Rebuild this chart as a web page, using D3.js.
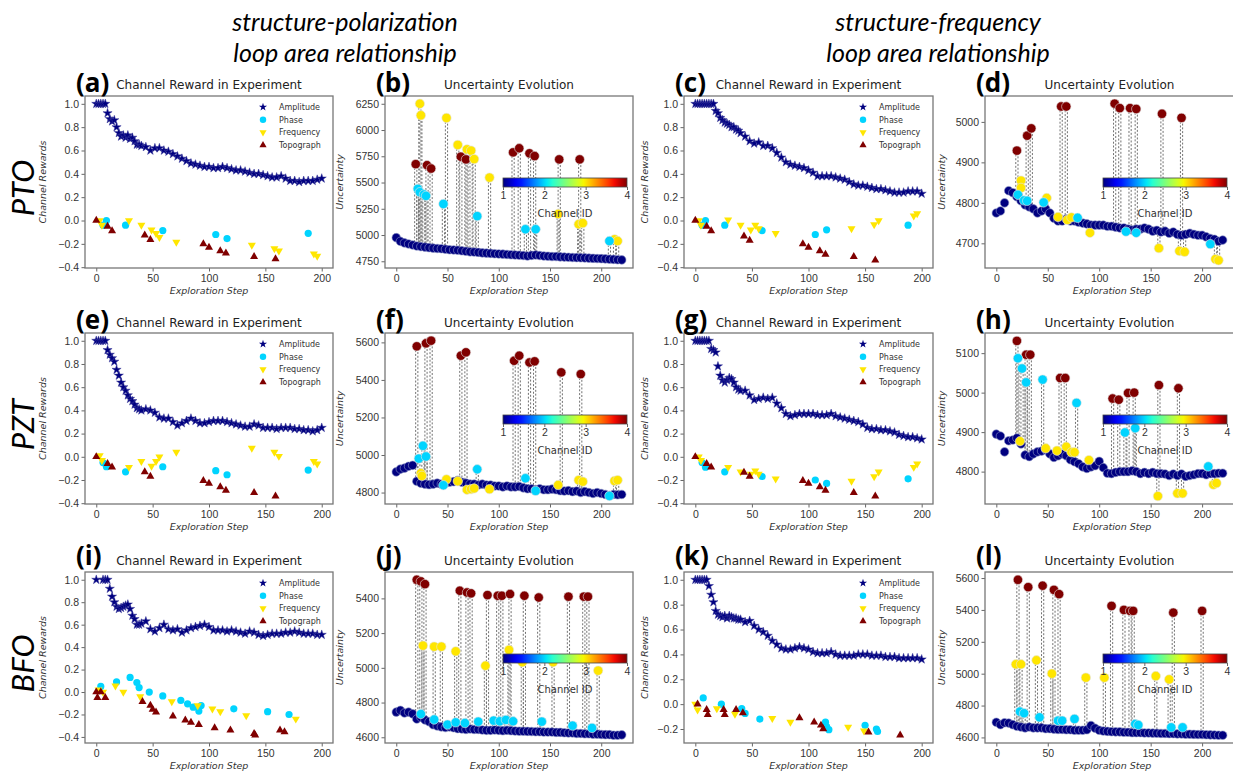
<!DOCTYPE html>
<meta charset="utf-8">
<style>
body { margin: 0; background: #fff; }
svg { font-family: 'DejaVu Sans', sans-serif; }
.tick text { fill: #333; font-size: 10.5px; }
.tick line { stroke: #666; }
.domain { display: none; }
.head { font-family: 'Lato', sans-serif; font-style: italic; font-size: 25px; }
.rowlab { font-family: 'Lato', sans-serif; font-style: italic; font-size: 31px; }
.letter { font-family: 'Open Sans', sans-serif; font-weight: bold; font-size: 26px; }
.ptitle { font-size: 12px; fill: #222; }
.axlab { font-size: 9.5px; font-style: italic; fill: #333; }
.legend { font-size: 8px; fill: #333; }
</style>
<body>
<div id="fig"></div>
<script src="https://cdn.jsdelivr.net/npm/d3@7"></script>
<script>
// ---------- data: channel reward panels ----------
var ampSteps = [0,2,4,6,8,10,12,14,16,18,20,22,24,26,28,30,32,34,36,38,40,
  44,48,52,56,60,64,68,72,76,80,84,88,92,96,100,104,108,112,116,120,
  124,128,132,136,140,144,148,152,156,160,164,168,172,176,180,184,188,192,196,200];

var ampA = [1,1,1,1,1,0.92,0.87,0.85,0.86,0.80,0.75,0.72,0.73,0.71,0.73,0.70,0.71,0.68,0.65,0.65,0.64,
  0.63,0.60,0.62,0.62,0.60,0.59,0.57,0.55,0.53,0.51,0.49,0.48,0.47,0.46,0.46,0.45,0.45,0.46,0.45,0.44,
  0.43,0.43,0.42,0.41,0.40,0.40,0.39,0.38,0.37,0.37,0.38,0.36,0.34,0.34,0.33,0.34,0.34,0.34,0.35,0.36];
var ampC = [1,1,1,1,1,1,1,1,1,0.94,0.92,0.88,0.86,0.84,0.83,0.82,0.80,0.80,0.78,0.77,0.75,
  0.72,0.68,0.66,0.67,0.64,0.64,0.62,0.58,0.54,0.50,0.48,0.47,0.46,0.45,0.43,0.41,0.38,0.38,0.38,0.38,
  0.37,0.36,0.35,0.33,0.31,0.30,0.30,0.29,0.28,0.27,0.27,0.26,0.25,0.24,0.24,0.24,0.25,0.25,0.25,0.23];
var ampE = [1,1,1,1,1,0.92,0.88,0.85,0.82,0.75,0.70,0.64,0.60,0.57,0.53,0.50,0.48,0.45,0.42,0.41,0.40,
  0.41,0.40,0.38,0.34,0.33,0.33,0.30,0.27,0.29,0.31,0.33,0.31,0.29,0.29,0.30,0.31,0.31,0.31,0.30,0.29,
  0.28,0.27,0.26,0.26,0.28,0.27,0.25,0.25,0.25,0.24,0.25,0.25,0.25,0.24,0.24,0.23,0.23,0.22,0.23,0.25];
var ampG = [1,1,1,1,1,1,1,0.93,0.92,0.90,0.78,0.70,0.66,0.64,0.66,0.68,0.67,0.64,0.60,0.58,0.57,
  0.57,0.53,0.49,0.50,0.51,0.50,0.51,0.46,0.42,0.37,0.35,0.36,0.37,0.37,0.37,0.37,0.36,0.36,0.36,0.37,
  0.35,0.34,0.33,0.32,0.31,0.30,0.28,0.25,0.24,0.24,0.23,0.23,0.22,0.21,0.19,0.18,0.17,0.17,0.16,0.15];
var ampI = [1,null,null,1,1,1,0.92,0.85,0.80,0.76,0.74,0.75,0.76,0.77,0.78,0.74,0.68,0.65,0.60,0.60,0.61,
  0.63,0.56,0.54,0.57,0.60,0.56,0.55,0.56,0.53,0.55,0.57,0.58,0.59,0.60,0.58,0.55,0.55,0.55,0.54,0.55,
  0.54,0.53,0.52,0.54,0.53,0.51,0.50,0.51,0.52,0.52,0.52,0.53,0.53,0.54,0.53,0.52,0.52,0.52,0.51,0.51];
var ampK = [1,1,1,1,1,1,0.95,0.88,0.82,0.75,0.72,0.71,0.70,0.71,0.69,0.71,0.70,0.69,0.69,0.68,0.68,
  0.66,0.67,0.63,0.60,0.58,0.55,0.51,0.48,0.45,0.44,0.44,0.45,0.46,0.45,0.44,0.42,0.41,0.41,0.41,0.42,
  0.40,0.39,0.39,0.39,0.39,0.40,0.40,0.40,0.39,0.39,0.39,0.38,0.38,0.38,0.37,0.37,0.37,0.37,0.37,0.36];

var phaseA = [[6,-0.04],[9,0.0],[26,-0.04],[59,-0.086],[106,-0.12],[116,-0.155],[188,-0.11]];
var freqA = [[3,0.0],[5,-0.04],[29,0.0],[40,-0.04],[49,-0.08],[53,-0.11],[56,-0.145],[71,-0.185],[138,-0.21],[158,-0.24],[162,-0.26],[193,-0.285],[196,-0.305]];
var topoA = [[0,0.0],[10,-0.05],[14,-0.09],[43,-0.125],[48,-0.165],[95,-0.2],[100,-0.23],[110,-0.26],[115,-0.28],[140,-0.31],[159,-0.33]];

var phaseC = [[6,-0.04],[9,0.0],[26,-0.04],[59,-0.086],[106,-0.12],[116,-0.08],[188,-0.04]];
var freqC = [[3,0.0],[5,-0.04],[29,0.005],[40,-0.04],[49,-0.08],[53,-0.04],[56,-0.07],[71,-0.11],[138,-0.07],[158,-0.035],[162,0.0],[193,0.04],[196,0.06]];
var topoC = [[0,0.0],[10,-0.05],[14,-0.09],[43,-0.135],[48,-0.17],[95,-0.2],[100,-0.23],[110,-0.26],[115,-0.29],[140,-0.31],[159,-0.34]];

var phaseE = [[6,-0.05],[9,-0.086],[26,-0.13],[59,-0.086],[106,-0.12],[116,-0.155],[188,-0.115]];
var freqE = [[3,0.01],[5,-0.03],[29,-0.09],[40,-0.04],[49,-0.08],[53,-0.04],[56,0.0],[71,0.04],[138,0.075],[158,0.04],[162,0.005],[193,-0.04],[196,-0.06]];
var topoE = [[0,0.0],[10,-0.06],[14,-0.09],[43,-0.13],[48,-0.17],[95,-0.205],[100,-0.23],[110,-0.26],[115,-0.29],[140,-0.31],[159,-0.34]];

var phaseG = [[6,-0.05],[9,-0.09],[26,-0.13],[59,-0.17],[106,-0.2],[116,-0.23],[188,-0.19]];
var freqG = [[3,0.0],[5,-0.03],[29,-0.09],[40,-0.13],[49,-0.15],[53,-0.12],[56,-0.15],[71,-0.19],[138,-0.21],[158,-0.17],[162,-0.13],[193,-0.09],[196,-0.06]];
var topoG = [[0,0.0],[10,-0.06],[14,-0.09],[43,-0.135],[48,-0.17],[95,-0.205],[100,-0.23],[110,-0.26],[115,-0.29],[140,-0.31],[159,-0.34]];

var phaseI = [[4,0.05],[18,0.09],[30,0.13],[36,0.085],[38,0.04],[47,0.0],[59,-0.035],[75,-0.075],[81,-0.105],[86,-0.135],[91,-0.17],[93,-0.12],[122,-0.15],[152,-0.175],[171,-0.2]];
var freqI = [[2,0.02],[6,0.0],[17,0.055],[24,0.0],[39,-0.04],[67,-0.085],[90,-0.12],[103,-0.15],[110,-0.175],[133,-0.21],[177,-0.24]];
var topoI = [[0,0.0],[1,-0.05],[4,0.0],[8,-0.05],[41,-0.085],[48,-0.12],[50,-0.155],[53,-0.18],[68,-0.215],[79,-0.25],[84,-0.27],[91,-0.29],[105,-0.32],[119,-0.34],[140,-0.37],[141,-0.385],[163,-0.34],[167,-0.355]];

var phaseK = [[7,0.05],[23,0.0],[41,-0.035],[44,-0.075],[57,-0.12],[115,-0.145],[116,-0.18],[118,-0.205],[150,-0.17],[160,-0.2],[161,-0.22]];
var freqK = [[0,0.0],[2,-0.045],[19,-0.035],[35,-0.08],[68,-0.115],[84,-0.145],[135,-0.185],[149,-0.215]];
var topoK = [[2,0.0],[10,-0.045],[11,-0.085],[25,-0.045],[26,-0.085],[36,-0.045],[42,-0.07],[92,-0.11],[105,-0.145],[111,-0.17],[113,-0.2],[153,-0.225],[181,-0.25]];

// ---------- data: uncertainty panels ----------
var uncSteps = [0,4,8,12,16,20,24,28,32,36,40,44,48,52,56,60,64,68,72,76,80,84,88,92,96,100,
  104,108,112,116,120,124,128,132,136,140,144,148,152,156,160,164,168,172,176,180,184,188,192,196,200,
  204,208,212,216,220];

var baseB = [4975,4940,4925,4915,4905,4895,4890,4885,4880,4875,4872,4870,4865,4860,4858,4855,4850,4845,4840,4838,
  4835,4830,4828,4825,4822,4820,4818,4815,4812,4810,4808,4805,4800,4806,4810,4805,4800,4798,4795,4795,
  4792,4790,4788,4786,4785,4783,4782,4780,4778,4776,4775,4773,4770,4768,4765,4763];
var baseD = [4775,4780,4800,4830,4825,4815,4805,4795,4790,4785,4775,4780,4785,4775,4762,4755,4755,4760,4755,4755,
  4752,4750,4748,4745,4745,4745,4745,4742,4742,4740,4738,4738,4735,4733,4735,4735,4738,4735,4730,4732,
  4728,4730,4725,4728,4722,4720,4722,4725,4722,4720,4720,4716,4712,4710,4705,4708];
var baseF = [4910,4925,4930,4940,4945,4860,4850,4845,4842,4845,4850,4845,4850,4855,4858,4865,4855,4850,4845,4845,
  4840,4845,4840,4840,4835,4835,4830,4835,4830,4830,4832,4825,4820,4820,4815,4820,4815,4815,4818,4815,
  4810,4808,4810,4805,4808,4800,4805,4800,4795,4800,4795,4790,4785,4790,4788,4790];
var baseH = [4895,4890,4850,4878,4880,4885,4870,4842,4838,4845,4850,4852,4855,4845,4836,4840,4845,4840,4830,4825,
  4820,4812,4808,4812,4815,4826,4810,4796,4795,4798,4800,4800,4800,4802,4800,4795,4798,4795,4798,4795,
  4795,4794,4790,4794,4790,4794,4788,4790,4792,4795,4795,4792,4795,4795,4796,4796];
var baseJ = [4745,4755,4740,4745,4735,4705,4715,4700,4690,4672,4665,4660,4656,4660,4655,4650,4648,4645,4648,4645,
  4645,4642,4640,4640,4642,4640,4638,4640,4638,4636,4635,4635,4634,4633,4632,4632,4630,4630,4630,4628,
  4628,4626,4625,4625,4622,4622,4620,4620,4618,4618,4616,4615,4615,4612,4612,4614];
var baseL = [4695,4680,4692,4690,4680,4670,4665,4660,4665,4660,4660,4660,4655,4655,4652,4650,4650,4648,4648,4645,
  4645,4645,4648,4675,4658,4645,4640,4638,4636,4635,4635,4632,4632,4630,4630,4630,4628,4628,4627,4626,
  4625,4625,4624,4624,4622,4622,4620,4620,4619,4618,4618,4617,4616,4615,4614,4614];

// [step, uncertainty, channel ID]
var pointsB = [[19,5675,4],[30,5665,4],[34,5633,4],[63,5746,4],[68,5720,4],[114,5787,4],[120,5826,4],[130,5778,4],[135,5752,4],[159,5720,4],[179,5720,4],
  [23,6250,3],[24,6140,3],[49,6115,3],[60,5858,3],[69,5816,3],[73,5804,3],[76,5723,3],[91,5547,3],[158,5200,3],[178,5103,3],[182,5113,3],[213,4959,3],[216,4943,3],
  [21,5440,2],[23,5408,2],[27,5386,2],[29,5373,2],[46,5296,2],[79,5180,2],[126,5055,2],[136,5055,2],[208,4943,2]];
var pointsD = [[20,4929,4],[30,4966,4],[34,4984,4],[63,5038,4],[68,5038,4],[115,5045,4],[120,5034,4],[130,5034,4],[136,5032,4],[161,5020,4],[180,5010,4],
  [24,4855,3],[24,4837,3],[49,4812,3],[60,4765,3],[69,4758,3],[73,4764,3],[91,4726,3],[158,4688,3],[178,4681,3],[183,4679,3],[213,4661,3],[216,4658,3],
  [21,4820,2],[27,4806,2],[30,4805,2],[46,4801,2],[79,4763,2],[126,4729,2],[136,4726,2],[208,4698,2]];
var pointsF = [[20,5579,4],[29,5595,4],[34,5609,4],[63,5529,4],[68,5547,4],[115,5502,4],[120,5529,4],[130,5493,4],[135,5499,4],[161,5440,4],[180,5431,4],
  [24,4903,3],[25,4889,3],[49,4870,3],[60,4860,3],[69,4815,3],[73,4818,3],[76,4822,3],[91,4818,3],[158,4840,3],[178,4866,3],[182,4858,3],[213,4862,3],[216,4866,3],
  [22,4981,2],[26,5049,2],[29,4992,2],[46,4839,2],[79,4924,2],[126,4876,2],[136,4809,2],[208,4782,2]];
var pointsH = [[20,5131,4],[29,5096,4],[33,5096,4],[62,5037,4],[67,5037,4],[113,4985,4],[119,4982,4],[128,4999,4],[134,5000,4],[158,5019,4],[177,5011,4],
  [23,4877,3],[48,4859,3],[59,4853,3],[68,4863,3],[73,4849,3],[76,4849,3],[90,4829,3],[157,4738,3],[176,4745,3],[181,4745,3],[211,4767,3],[214,4771,3],
  [21,5087,2],[25,5061,2],[29,5026,2],[45,5033,2],[78,4974,2],[125,4899,2],[135,4910,2],[206,4813,2]];
var pointsJ = [[20,5507,4],[24,5498,4],[28,5482,4],[62,5444,4],[69,5434,4],[73,5429,4],[89,5419,4],[99,5415,4],[103,5415,4],[111,5425,4],[125,5415,4],[139,5405,4],[168,5410,4],[183,5410,4],[187,5410,4],
  [26,5128,3],[37,5122,3],[44,5122,3],[58,5095,3],[87,5012,3],[110,5103,3],[123,5032,3],[153,5032,3],[197,4984,3],
  [24,4734,2],[37,4702,2],[50,4673,2],[58,4686,2],[67,4682,2],[80,4690,2],[95,4696,2],[101,4692,2],[107,4700,2],[114,4692,2],[142,4690,2],[172,4667,2],[191,4654,2]];
var pointsL = [[21,5589,4],[31,5543,4],[45,5552,4],[56,5526,4],[61,5499,4],[112,5425,4],[124,5400,4],[130,5394,4],[133,5394,4],[172,5383,4],[200,5394,4],
  [19,5059,3],[24,5059,3],[39,5084,3],[54,5000,3],[87,4975,3],[105,4975,3],[155,4985,3],[168,4964,3],
  [23,4762,2],[27,4752,2],[42,4726,2],[60,4705,2],[64,4705,2],[76,4716,2],[135,4684,2],[138,4678,2],[170,4663,2],[181,4663,2]];

// ---------- labels / ticks ----------
var stepTicks = [0,50,100,150,200];
var rewardTicks = [-0.4,-0.2,0,0.2,0.4,0.6,0.8,1.0];
var rewardTicksK = [-0.2,0,0.2,0.4,0.6,0.8,1.0];
var uncTicksB = [4750,5000,5250,5500,5750,6000,6250];
var uncTicksD = [4700,4800,4900,5000];
var uncTicksF = [4800,5000,5200,5400,5600];
var uncTicksH = [4800,4900,5000,5100];
var uncTicksJ = [4600,4800,5000,5200,5400];
var uncTicksL = [4600,4800,5000,5200,5400,5600];
var channelNames = ['Amplitude','Phase','Frequency','Topograph'];
var channelIds = [1,2,3,4];
var materials = ['PTO','PZT','BFO'];
var headers = [['structure-polarization','loop area relationship'],['structure-frequency','loop area relationship']];

// ---------- jet colormap ----------
var jetR = [[0,0],[0.35,0],[0.66,1],[0.89,1],[1,0.5]],
    jetG = [[0,0],[0.125,0],[0.375,1],[0.64,1],[0.91,0],[1,0]],
    jetB = [[0,0.5],[0.11,1],[0.34,1],[0.65,0],[1,0]];
function seg(p, t) {
  for (var i = 1; i < p.length; i++) {
    if (t <= p[i][0]) return p[i-1][1] + (p[i][1]-p[i-1][1]) * (t-p[i-1][0]) / (p[i][0]-p[i-1][0]);
  }
  return p[p.length-1][1];
}
function jet(t) { return d3.rgb(255*seg(jetR,t), 255*seg(jetG,t), 255*seg(jetB,t)).formatHex(); }
var chColor = d3.scaleLinear().domain([1,4]).range([0,1]);
function colorOf(id) { return jet(chColor(id)); }

// ---------- layout ----------
var cols = [{l:85,r:333},{l:385,r:633},{l:684,r:933},{l:985,r:1234}];
var rows = [{t:96,b:268},{t:333,b:504},{t:572,b:743}];
var letterY = [92, 329, 565];
var titleY = [89, 327, 565];
var ylabX = [43, 340, 645, 942];

var svg = d3.select('#fig').append('svg')
  .attr('width', 1233).attr('height', 774);

var grad = svg.append('defs').append('linearGradient').attr('id','jetgrad');
grad.selectAll('stop').data(d3.range(0, 1.0001, 0.05)).join('stop')
  .attr('offset', function(d){ return d; })
  .attr('stop-color', function(d){ return jet(d); });

// headers
headers.forEach(function(h, i) {
  var cx = [345, 938][i];
  svg.append('text').attr('class','head').attr('x',cx).attr('y',31).attr('text-anchor','middle').text(h[0]);
  svg.append('text').attr('class','head').attr('x',cx).attr('y',62).attr('text-anchor','middle').text(h[1]);
});
// material row labels
materials.forEach(function(m, i) {
  var cy = (rows[i].t + rows[i].b) / 2 + 6;
  svg.append('text').attr('class','rowlab')
    .attr('transform','translate(34,' + cy + ') rotate(-90)')
    .attr('text-anchor','middle').text(m);
});

function makeAxes(p, xdom, ydom, yticks, fmt, title, ylab) {
  var c = cols[p.col], r = rows[p.row];
  var x = d3.scaleLinear().domain(xdom).range([c.l, c.r]);
  var y = d3.scaleLinear().domain(ydom).range([r.b, r.t]);
  var g = svg.append('g');
  var clipId = 'clip' + p.id.replace(/[()]/g,'');
  svg.select('defs').append('clipPath').attr('id', clipId)
    .append('rect').attr('x', c.l).attr('y', r.t).attr('width', c.r - c.l).attr('height', r.b - r.t);
  g.append('g').attr('transform','translate(0,' + r.b + ')')
    .call(d3.axisBottom(x).tickValues(stepTicks).tickSize(3.5).tickPadding(3));
  g.append('g').attr('transform','translate(' + c.l + ',0)')
    .call(d3.axisLeft(y).tickValues(yticks).tickFormat(fmt).tickSize(3.5).tickPadding(2.5));
  var plot = g.append('g').attr('clip-path','url(#' + clipId + ')');
  g.append('rect').attr('x', c.l).attr('y', r.t).attr('width', c.r - c.l).attr('height', r.b - r.t)
    .attr('fill','none').attr('stroke','#777').attr('stroke-width',1.3);
  svg.append('text').attr('class','letter').attr('x', c.l - 9).attr('y', letterY[p.row]).text(p.id);
  svg.append('text').attr('class','ptitle').attr('x', (c.l + c.r) / 2).attr('y', titleY[p.row])
    .attr('text-anchor','middle').text(title);
  svg.append('text').attr('class','axlab').attr('x', (c.l + Math.min(c.r, 1233)) / 2 + (p.col == 3 ? 3 : 0)).attr('y', r.b + 26)
    .attr('text-anchor','middle').text('Exploration Step');
  svg.append('text').attr('class','axlab')
    .attr('transform','translate(' + ylabX[p.col] + ',' + (r.t + r.b) / 2 + ') rotate(-90)')
    .attr('text-anchor','middle').attr('dy','0.35em').text(ylab);
  return {x: x, y: y, plot: plot, g: g, c: c, r: r};
}

// ---------- reward panels ----------
var star = d3.symbol(d3.symbolStar, 26);
var triUp = d3.symbol(d3.symbolTriangle, 28);
var rewardPanels = [
  {id:'(a)', col:0, row:0, amp:ampA, phase:phaseA, freq:freqA, topo:topoA, ydom:[-0.407,1.067], ticks:rewardTicks},
  {id:'(c)', col:2, row:0, amp:ampC, phase:phaseC, freq:freqC, topo:topoC, ydom:[-0.407,1.067], ticks:rewardTicks},
  {id:'(e)', col:0, row:1, amp:ampE, phase:phaseE, freq:freqE, topo:topoE, ydom:[-0.407,1.067], ticks:rewardTicks},
  {id:'(g)', col:2, row:1, amp:ampG, phase:phaseG, freq:freqG, topo:topoG, ydom:[-0.407,1.067], ticks:rewardTicks},
  {id:'(i)', col:0, row:2, amp:ampI, phase:phaseI, freq:freqI, topo:topoI, ydom:[-0.454,1.069], ticks:rewardTicks},
  {id:'(k)', col:2, row:2, amp:ampK, phase:phaseK, freq:freqK, topo:topoK, ydom:[-0.3125,1.0625], ticks:rewardTicksK}
];

function drawMarker(sel, id, s) {
  if (id == 1) sel.append('path').attr('d', d3.symbol(d3.symbolStar, s * 26)()).attr('fill', colorOf(1));
  else if (id == 2) sel.append('circle').attr('r', 3.6 * Math.sqrt(s)).attr('fill', colorOf(2));
  else if (id == 3) sel.append('path').attr('d', d3.symbol(d3.symbolTriangle, s * 28)()).attr('transform','rotate(180)').attr('fill', colorOf(3));
  else sel.append('path').attr('d', d3.symbol(d3.symbolTriangle, s * 28)()).attr('fill', colorOf(4));
}

rewardPanels.forEach(function(p) {
  var a = makeAxes(p, [-10, 210], p.ydom, p.ticks, d3.format('.1f'), 'Channel Reward in Experiment', 'Channel Rewards');
  var x = a.x, y = a.y;
  var ampPts = ampSteps.map(function(s, i){ return [s, p.amp[i]]; }).filter(function(d){ return d[1] != null; });
  a.plot.selectAll('path.amp').data(ampPts).join('path').attr('class','amp')
    .attr('d', star).attr('fill', colorOf(1)).attr('stroke', '#3a3a9a').attr('stroke-width', 0.5)
    .attr('transform', function(d){ return 'translate(' + x(d[0]) + ',' + y(d[1]) + ')'; });
  a.plot.selectAll('circle.ph').data(p.phase).join('circle').attr('class','ph')
    .attr('cx', function(d){ return x(d[0]); }).attr('cy', function(d){ return y(d[1]); })
    .attr('r', 3.6).attr('fill', colorOf(2));
  a.plot.selectAll('path.fq').data(p.freq).join('path').attr('class','fq')
    .attr('d', triUp).attr('fill', colorOf(3))
    .attr('transform', function(d){ return 'translate(' + x(d[0]) + ',' + y(d[1]) + ') rotate(180)'; });
  a.plot.selectAll('path.tp').data(p.topo).join('path').attr('class','tp')
    .attr('d', triUp).attr('fill', colorOf(4))
    .attr('transform', function(d){ return 'translate(' + x(d[0]) + ',' + y(d[1]) + ')'; });
  // legend
  var lg = svg.append('g').attr('transform','translate(' + (a.c.r - 70) + ',' + (a.r.t + 11) + ')');
  channelNames.forEach(function(n, i) {
    var row = lg.append('g').attr('transform','translate(0,' + (i * 12.7) + ')');
    drawMarker(row, channelIds[i], 0.8);
    row.append('text').attr('class','legend').attr('x', 16).attr('dy','0.35em').text(n);
  });
});

// ---------- uncertainty panels ----------
var uncPanels = [
  {id:'(b)', col:1, row:0, base:baseB, pts:pointsB, ydom:[4686,6324], ticks:uncTicksB},
  {id:'(d)', col:3, row:0, base:baseD, pts:pointsD, ydom:[4639,5064], ticks:uncTicksD},
  {id:'(f)', col:1, row:1, base:baseF, pts:pointsF, ydom:[4739,5650], ticks:uncTicksF},
  {id:'(h)', col:3, row:1, base:baseH, pts:pointsH, ydom:[4718,5151], ticks:uncTicksH},
  {id:'(j)', col:1, row:2, base:baseJ, pts:pointsJ, ydom:[4567,5552], ticks:uncTicksJ},
  {id:'(l)', col:3, row:2, base:baseL, pts:pointsL, ydom:[4565,5638], ticks:uncTicksL}
];

uncPanels.forEach(function(p) {
  var a = makeAxes(p, [-11, 231], p.ydom, p.ticks, d3.format('d'), 'Uncertainty Evolution', 'Uncertainty');
  var x = a.x, y = a.y;
  function baseAt(s) { return p.base[d3.minIndex(uncSteps, function(u){ return Math.abs(u - s); })]; }
  // dotted drop lines
  [-1.1, 1.1].forEach(function(o, k) {
    a.plot.selectAll('line.drop' + k).data(p.pts).join('line').attr('class','drop' + k)
      .attr('x1', function(d){ return x(d[0]) + o; }).attr('x2', function(d){ return x(d[0]) + o; })
      .attr('y1', function(d){ return y(d[1]); }).attr('y2', function(d){ return y(baseAt(d[0])); })
      .attr('stroke','#707070').attr('stroke-width',1)
      .attr('stroke-dasharray','2,1.8').attr('stroke-dashoffset', k * 1.9);
  });
  a.plot.selectAll('circle.base').data(uncSteps).join('circle').attr('class','base')
    .attr('cx', function(d){ return x(d); }).attr('cy', function(d, i){ return y(p.base[i]); })
    .attr('r', 4.3).attr('fill', colorOf(1)).attr('stroke','#9098c8').attr('stroke-width',0.6);
  a.plot.selectAll('circle.pt').data(p.pts).join('circle').attr('class','pt')
    .attr('cx', function(d){ return x(d[0]); }).attr('cy', function(d){ return y(d[1]); })
    .attr('r', 4.7).attr('fill', function(d){ return colorOf(d[2]); })
    .attr('stroke','#e4e4e4').attr('stroke-width',0.6);
  // colorbar
  var cx0 = a.c.l + 118, cw = 124, cy0 = a.r.t + 82, ch = 9;
  var cb = d3.scaleLinear().domain([1,4]).range([cx0, cx0 + cw]);
  svg.append('rect').attr('x', cx0).attr('y', cy0).attr('width', cw).attr('height', ch)
    .attr('fill','url(#jetgrad)').attr('stroke','#444').attr('stroke-width',0.8);
  svg.append('g').attr('transform','translate(0,' + (cy0 + ch) + ')')
    .call(d3.axisBottom(cb).tickValues(channelIds).tickFormat(d3.format('d')).tickSize(3).tickPadding(2));
  svg.append('text').attr('x', cx0 + cw / 2).attr('y', cy0 + ch + 30).attr('text-anchor','middle')
    .attr('font-size', 10).attr('fill','#333').text('Channel ID');
});
</script>
</body>
